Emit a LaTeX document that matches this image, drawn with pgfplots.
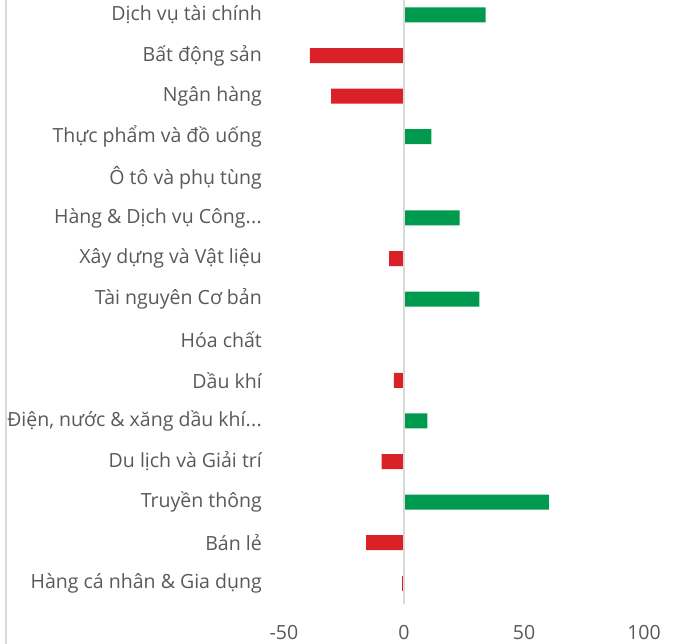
\documentclass[border=0pt]{standalone}
\usepackage{pgfplots}
\pgfplotsset{compat=1.18}
\usepackage{fontspec}
\setmainfont{Open Sans}
\definecolor{pos}{HTML}{009A4E}
\definecolor{neg}{HTML}{DA2128}
\definecolor{txt}{HTML}{595959}
\definecolor{gridc}{HTML}{D9D9D9}
\newcommand{\dotsx}{.\kern0.3pt.\kern0.3pt.}
\begin{document}
\begin{tikzpicture}
\begin{axis}[
  at={(284bp,40.4bp)}, anchor=south west,
  scale only axis, width=360bp, height=609bp,
  xmin=-50, xmax=100, ymin=-0.5, ymax=14.5, y dir=reverse,
  xbar, bar width=15bp, bar shift=0pt,
  axis line style={draw=none},
  xtick={-50,0,50,100}, ytick={0,...,14},
  yticklabels={Dịch vụ tài chính, Bất động sản, Ngân hàng, Thực phẩm và đồ uống, Ô tô và phụ tùng, {Hàng \& Dịch vụ Công\dotsx}, Xây dựng và Vật liệu, Tài nguyên Cơ bản, Hóa chất, Dầu khí, {Điện, nước \& xăng dầu khí\dotsx}, Du lịch và Giải trí, Truyền thông, Bán lẻ, Hàng cá nhân \& Gia dụng},
  major tick length=0pt,
  tick style={draw=none},
  tick label style={text=txt, font=\fontsize{19.6}{23}\selectfont},
  /pgf/number format/assume math mode=true,
  yticklabel style={anchor=east, inner sep=0pt, xshift=-22bp},
  xticklabel style={anchor=center, inner sep=0pt, yshift=-29.4bp},
  clip=false,
]
\addplot[xbar, fill=pos, draw=none] coordinates {(34.0,0) (11.4,3) (23.2,5) (31.4,7) (9.7,10) (60.4,12)};
\addplot[xbar, fill=neg, draw=none] coordinates {(-39.2,1) (-30.4,2) (-6.25,6) (-4.2,9) (-9.3,11) (-15.8,13) (-0.8,14)};
\draw[gridc, line width=2bp] (axis cs:0,-0.5) -- (axis cs:0,14.5);
\end{axis}
\draw[gridc, line width=2bp] (6bp,0) -- (6bp,644bp);
\pgfresetboundingbox
\path (0,0) rectangle (675bp,644bp);
\end{tikzpicture}
\end{document}
